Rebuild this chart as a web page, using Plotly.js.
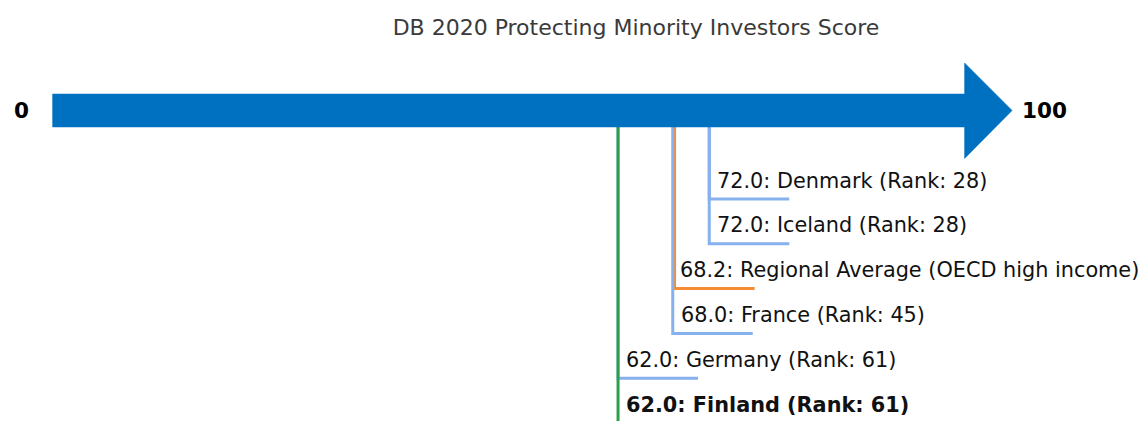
<!DOCTYPE html>
<html>
<head>
<meta charset="utf-8">
<script src="https://cdn.plot.ly/plotly-3.0.1.min.js"></script>
<style>html,body{margin:0;padding:0;background:#fff;}#chart{width:1146px;height:421px;}</style>
</head>
<body>
<div id="chart"></div>
<script>
const chartTitle = "DB 2020 Protecting Minority Investors Score";
const economies = ["Denmark", "Iceland", "Regional Average (OECD high income)", "France", "Germany", "Finland"];
const scores = [72.0, 72.0, 68.2, 68.0, 62.0, 62.0];
const ranks = [28, 28, null, 45, 61, 61];
const isRegional = [false, false, true, false, false, false];
const isFocus = [false, false, false, false, false, true];
const scaleEnds = [0, 100];

const W = 1146, H = 421;
const pxPerUnit = 9.12, zeroPx = 52.6;
const xRange = [-zeroPx / pxPerUnit, (W - zeroPx) / pxPerUnit];

const colBlue = "#0070c0", colLight = "#86b1ec", colOrange = "#f58c32", colGreen = "#2aa048";
const shaftTop = 94, shaftBot = 127, headTop = 63, headBot = 158.5, midY = 110.5;
const headLen = 47.5 / pxPerUnit;
const rowStart = 199, rowStep = 44.8;
const tailLen = 80 / pxPerUnit;

const traces = [];
const annotations = [];
scores.forEach((s, i) => {
  const rowY = rowStart + i * rowStep;
  const color = isFocus[i] ? colGreen : (isRegional[i] ? colOrange : colLight);
  traces.push({
    type: "scatter", mode: "lines",
    x: [s, s, s + tailLen], y: [shaftBot, rowY, rowY],
    line: {color: color, width: 3}, hoverinfo: "skip", showlegend: false
  });
  const txt = isRegional[i]
    ? s.toFixed(1) + ": " + economies[i]
    : s.toFixed(1) + ": " + economies[i] + " (Rank: " + ranks[i] + ")";
  annotations.push({
    x: s, y: rowY - 18.5, xref: "x", yref: "y",
    text: isFocus[i] ? "<b>" + txt + "</b>" : txt,
    showarrow: false, xanchor: "left", yanchor: "middle", xshift: isRegional[i] ? 3 : 6,
    font: {family: "DejaVu Sans", size: 20.8, color: "#111"}
  });
});

const a0 = scaleEnds[0], a1 = scaleEnds[1];
traces.push({
  type: "scatter", mode: "lines",
  x: [a0, a1, a1, a1 + headLen, a1, a1, a0, a0],
  y: [shaftTop, shaftTop, headTop, midY, headBot, shaftBot, shaftBot, shaftTop],
  fill: "toself", fillcolor: colBlue, line: {color: colBlue, width: 0.5},
  hoverinfo: "skip", showlegend: false
});

annotations.push({
  x: a0, y: midY, xref: "x", yref: "y", text: "<b>" + a0 + "</b>", showarrow: false,
  xanchor: "right", yanchor: "middle", xshift: -22,
  font: {family: "DejaVu Sans", size: 21.5, color: "#000"}
});
annotations.push({
  x: a1 + headLen, y: midY, xref: "x", yref: "y", text: "<b>" + a1 + "</b>", showarrow: false,
  xanchor: "left", yanchor: "middle", xshift: 8,
  font: {family: "DejaVu Sans", size: 21.5, color: "#000"}
});

const layout = {
  width: W, height: H,
  margin: {l: 0, r: 0, t: 0, b: 0, pad: 0},
  paper_bgcolor: "#fff", plot_bgcolor: "#fff",
  title: {
    text: chartTitle, x: 636 / W, xanchor: "center", xref: "paper",
    y: 1 - 27 / H, yanchor: "middle", yref: "container",
    font: {family: "DejaVu Sans", size: 22, color: "#3a3a3a"}
  },
  xaxis: {range: xRange, visible: false, fixedrange: true},
  yaxis: {range: [H, 0], visible: false, fixedrange: true},
  annotations: annotations,
  showlegend: false
};

Plotly.newPlot("chart", traces, layout, {staticPlot: true, displayModeBar: false});
</script>
</body>
</html>
